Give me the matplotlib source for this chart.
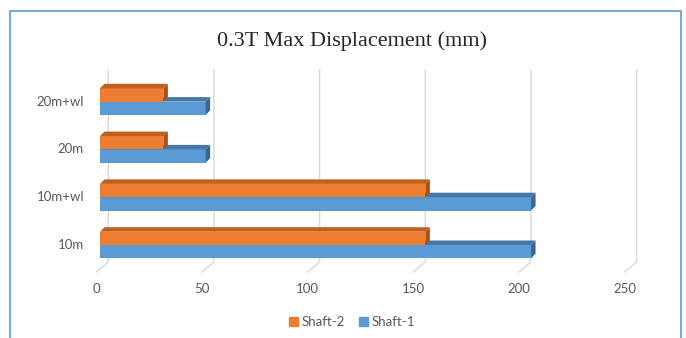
import matplotlib.pyplot as plt
from matplotlib.patches import Polygon, Patch, Rectangle

categories = ["10m", "10m+wl", "20m", "20m+wl"]
shaft_1 = [204, 204, 50, 50]
shaft_2 = [154, 154, 30, 30]
x_ticks = [0, 50, 100, 150, 200, 250]

W, H = 686, 338
fig = plt.figure(figsize=(W / 100, H / 100), dpi=100)

# plot box, in pixels from the top-left corner of the figure
left_px, right_px = 100, 628.25
top_px, bot_px = 60, 280
row_px = 47.8      # spacing between categories
y0_px = 245        # centre of the first category
ax = fig.add_axes([left_px / W, 1 - bot_px / H,
                   (right_px - left_px) / W, (bot_px - top_px) / H])
ax.set_xlim(0, x_ticks[-1])
ax.set_ylim((y0_px - bot_px) / row_px, (y0_px - top_px) / row_px)
ax.axis("off")

ux = (right_px - left_px) / x_ticks[-1]


def to_data(dx_px, dy_px):
    return dx_px / ux, dy_px / row_px


text_col = "#595959"
grid_col = "#d9d9d9"

# back wall gridlines with the floor edge coming forward
gx_back, _ = to_data(8.3, 0)
gx_front, _ = to_data(-3.7, 0)
y_top = (y0_px - 70) / row_px
y_back = (y0_px - 262) / row_px
y_front = (y0_px - 272) / row_px
y_lab = (y0_px - 289) / row_px
for t in x_ticks:
    ax.plot([t + gx_back, t + gx_back, t + gx_front], [y_top, y_back, y_front],
            color=grid_col, lw=1, zorder=1, clip_on=False)
    ax.text(t + gx_front, y_lab, str(t), ha="center", va="center",
            fontsize=9.5, family="Lato", color=text_col)

lab_x, _ = to_data(-16, 0)
for i, c in enumerate(categories):
    ax.text(lab_x, i, c, ha="right", va="center", fontsize=9.5,
            family="Lato", color=text_col)

_, h = to_data(0, 13.3)
ddx, ddy = to_data(4.5, 4.5)


def bar3d(y, value, front, top, side, z):
    ax.barh(y, value, height=h, left=0, align="edge", color=front,
            zorder=z, linewidth=0)
    ax.add_patch(Polygon([(0, y + h), (value, y + h),
                          (value + ddx, y + h + ddy), (ddx, y + h + ddy)],
                         closed=True, color=top, lw=0, zorder=z))
    ax.add_patch(Polygon([(value, y), (value + ddx, y + ddy),
                          (value + ddx, y + h + ddy), (value, y + h)],
                         closed=True, color=side, lw=0, zorder=z))


for i in range(len(categories)):
    bar3d(i - h, shaft_1[i], "#5b9bd5", "#4677a8", "#3a6690", 2 + 2 * i)
    bar3d(i, shaft_2[i], "#ed7d31", "#c0601f", "#a8521a", 3 + 2 * i)

fig.text(352 / W, 1 - 41 / H, "0.3T Max Displacement (mm)", ha="center",
         va="center", fontsize=16, family="Liberation Serif", color="#262626")

handles = [Patch(color="#ed7d31", label="Shaft-2"),
           Patch(color="#5b9bd5", label="Shaft-1")]
leg = fig.legend(handles=handles, loc="center", bbox_to_anchor=(352 / W, 1 - 322 / H),
                 ncol=2, frameon=False, handlelength=0.7, handleheight=0.7,
                 handletextpad=0.3, columnspacing=1.0,
                 prop={"family": "Lato", "size": 9.5})
for t in leg.get_texts():
    t.set_color(text_col)

# chart frame
fig.patches.append(Rectangle((10 / W, -0.1), 671 / W, 1.1 - 11 / H,
                             transform=fig.transFigure, fill=False,
                             edgecolor="#5b9bd5", lw=1.2))

fig.savefig("out.png", dpi=100)
